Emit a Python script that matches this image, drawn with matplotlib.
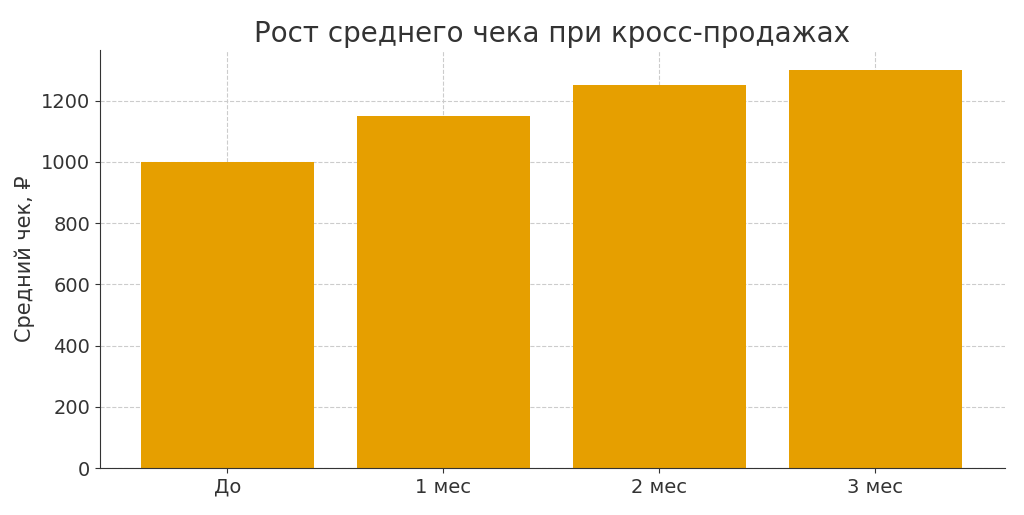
import matplotlib
matplotlib.use("Agg")
import matplotlib.pyplot as plt

categories = ["До", "1 мес", "2 мес", "3 мес"]
values = [1000, 1150, 1250, 1300]

fig = plt.figure(figsize=(10.24, 5.15), dpi=100)
ax = fig.add_axes([100/1024, 47/515, 905/1024, 418/515])
ax.bar(range(len(categories)), values, width=0.8, color="#E69F00", zorder=2)
ax.set_xticks(range(len(categories)))
ax.set_xticklabels(categories)
ax.set_xlim(-0.59, 3.6)
ax.set_ylim(0, 1365)
ax.set_yticks([0, 200, 400, 600, 800, 1000, 1200])
ax.grid(True, linestyle="--", color="#cccccc", linewidth=0.8, zorder=0)
ax.set_axisbelow(True)
for s in ["top", "right"]:
    ax.spines[s].set_visible(False)
ax.spines["left"].set_color("#333333")
ax.spines["bottom"].set_color("#333333")
ax.tick_params(labelsize=14, colors="#333333")
ax.set_ylabel("Средний чек, ₽", fontsize=15, color="#333333")
ax.set_title("Рост среднего чека при кросс-продажах", fontsize=20, color="#333333", pad=6)
fig.savefig("out.png", dpi=100)
